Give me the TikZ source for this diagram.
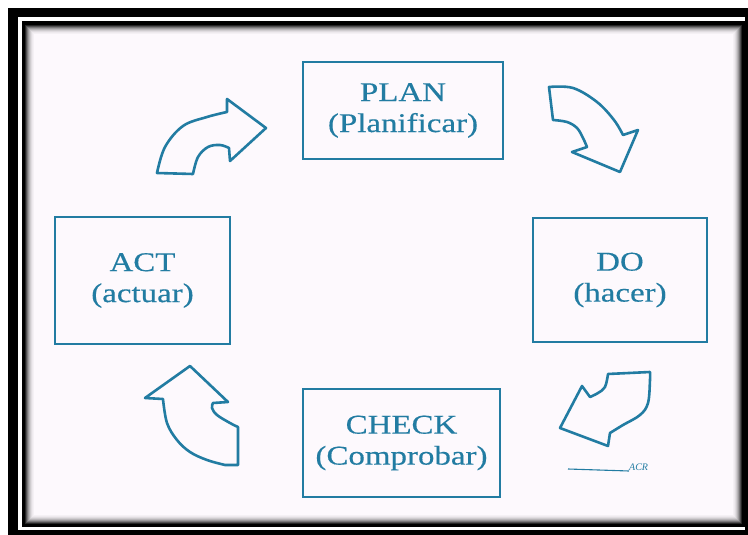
\documentclass[tikz,border=0pt]{standalone}
\usepackage{fontspec}
\setmainfont{Liberation Serif}
\newfontfamily\boxfont[FakeStretch=1.22,FakeBold=0.4]{Liberation Serif}
\definecolor{cyc}{RGB}{34,124,162}
\definecolor{paper}{RGB}{253,249,253}
\begin{document}
\begin{tikzpicture}[x=1pt,y=-1pt,
  stagebox/.style={draw=cyc, line width=2.8pt, inner sep=0pt, align=center,
    text=cyc, font=\boxfont\fontsize{27}{31}\selectfont},
  blockarrow/.style={draw=cyc, fill=paper, line width=2.6pt, line join=round},
  smoothpart/.style={smooth, tension=0.6}]
\useasboundingbox (0,0) rectangle (748,535);

% frame: outer black band, white gap, thin black line
\fill[white] (0,0) rectangle (748,535);
\fill[black] (8,8) rectangle (748,535);
\fill[white] (18,17) rectangle (745,530);
\fill[black] (22,21) rectangle (745,527);
\fill[paper] (25,25) rectangle (742,524);
% soft inner shadow along the frame
\foreach \i/\o in {0/0.85,1/0.68,2/0.52,3/0.38,4/0.27,5/0.18,6/0.11,7/0.06,8/0.03} {
  \draw[black, opacity=\o, line width=1pt] (25.5+\i,25.5+\i) rectangle (741.5-\i,523.5-\i);
}

% the four stages
\node[stagebox, minimum width=200pt, minimum height=97pt]  (plan)  at (403,110.5) {PLAN\\(Planificar)};
\node[stagebox, minimum width=174pt, minimum height=124pt] (do)    at (620,280)   {DO\\(hacer)};
\node[stagebox, minimum width=197pt, minimum height=108pt] (check) at (401.5,443) {CHECK\\(Comprobar)};
\node[stagebox, minimum width=175pt, minimum height=127pt] (act)   at (142.5,280.5) {ACT\\(actuar)};

% curved block arrows between the stages
% act -> plan
\draw[blockarrow] plot[smoothpart] coordinates {(193,174) (198,157) (208,147) (220,145) (229,148)}
  -- (230,161) -- (266,128) -- (227,99) -- (227,112)
  -- plot[smoothpart] coordinates {(227,112) (207,117) (183,126) (165,147) (157,173)}
  -- cycle;
% plan -> do
\draw[blockarrow] plot[smoothpart] coordinates {(549,87) (573,88) (597,102) (614,120) (623,135)}
  -- (638,130) -- (620,172) -- (572,152) -- (587,147)
  -- plot[smoothpart] coordinates {(587,147) (583,138) (577,128) (567,122) (553,120)}
  -- cycle;
% do -> check
\draw[blockarrow] plot[smoothpart] coordinates {(608,374) (605,387) (598,393) (590,397)}
  -- (582,386) -- (560,428) -- (608,446) -- (610,433)
  -- plot[smoothpart] coordinates {(610,433) (623,425) (640,415) (648,403) (650,380) (650,372)}
  -- cycle;
% check -> act
\draw[blockarrow] (190,366) -- (145,398) -- (163,399)
  -- plot[smoothpart] coordinates {(163,399) (167,423) (177,440) (190,452) (207,460) (225,465)}
  -- (238,465) -- (238,427)
  -- plot[smoothpart] coordinates {(238,427) (230,423) (217,415) (212,408) (213,403)}
  -- (228,402) -- cycle;

% signature
\coordinate (sigstart) at (568,469);
\node[text=cyc, font=\itshape\fontsize{10}{10}\selectfont, inner sep=0pt, anchor=south west] (sig) at (629,471) {ACR};
\draw[cyc, line width=1.1pt] (sigstart) -- (sig.south west);
\end{tikzpicture}
\end{document}
